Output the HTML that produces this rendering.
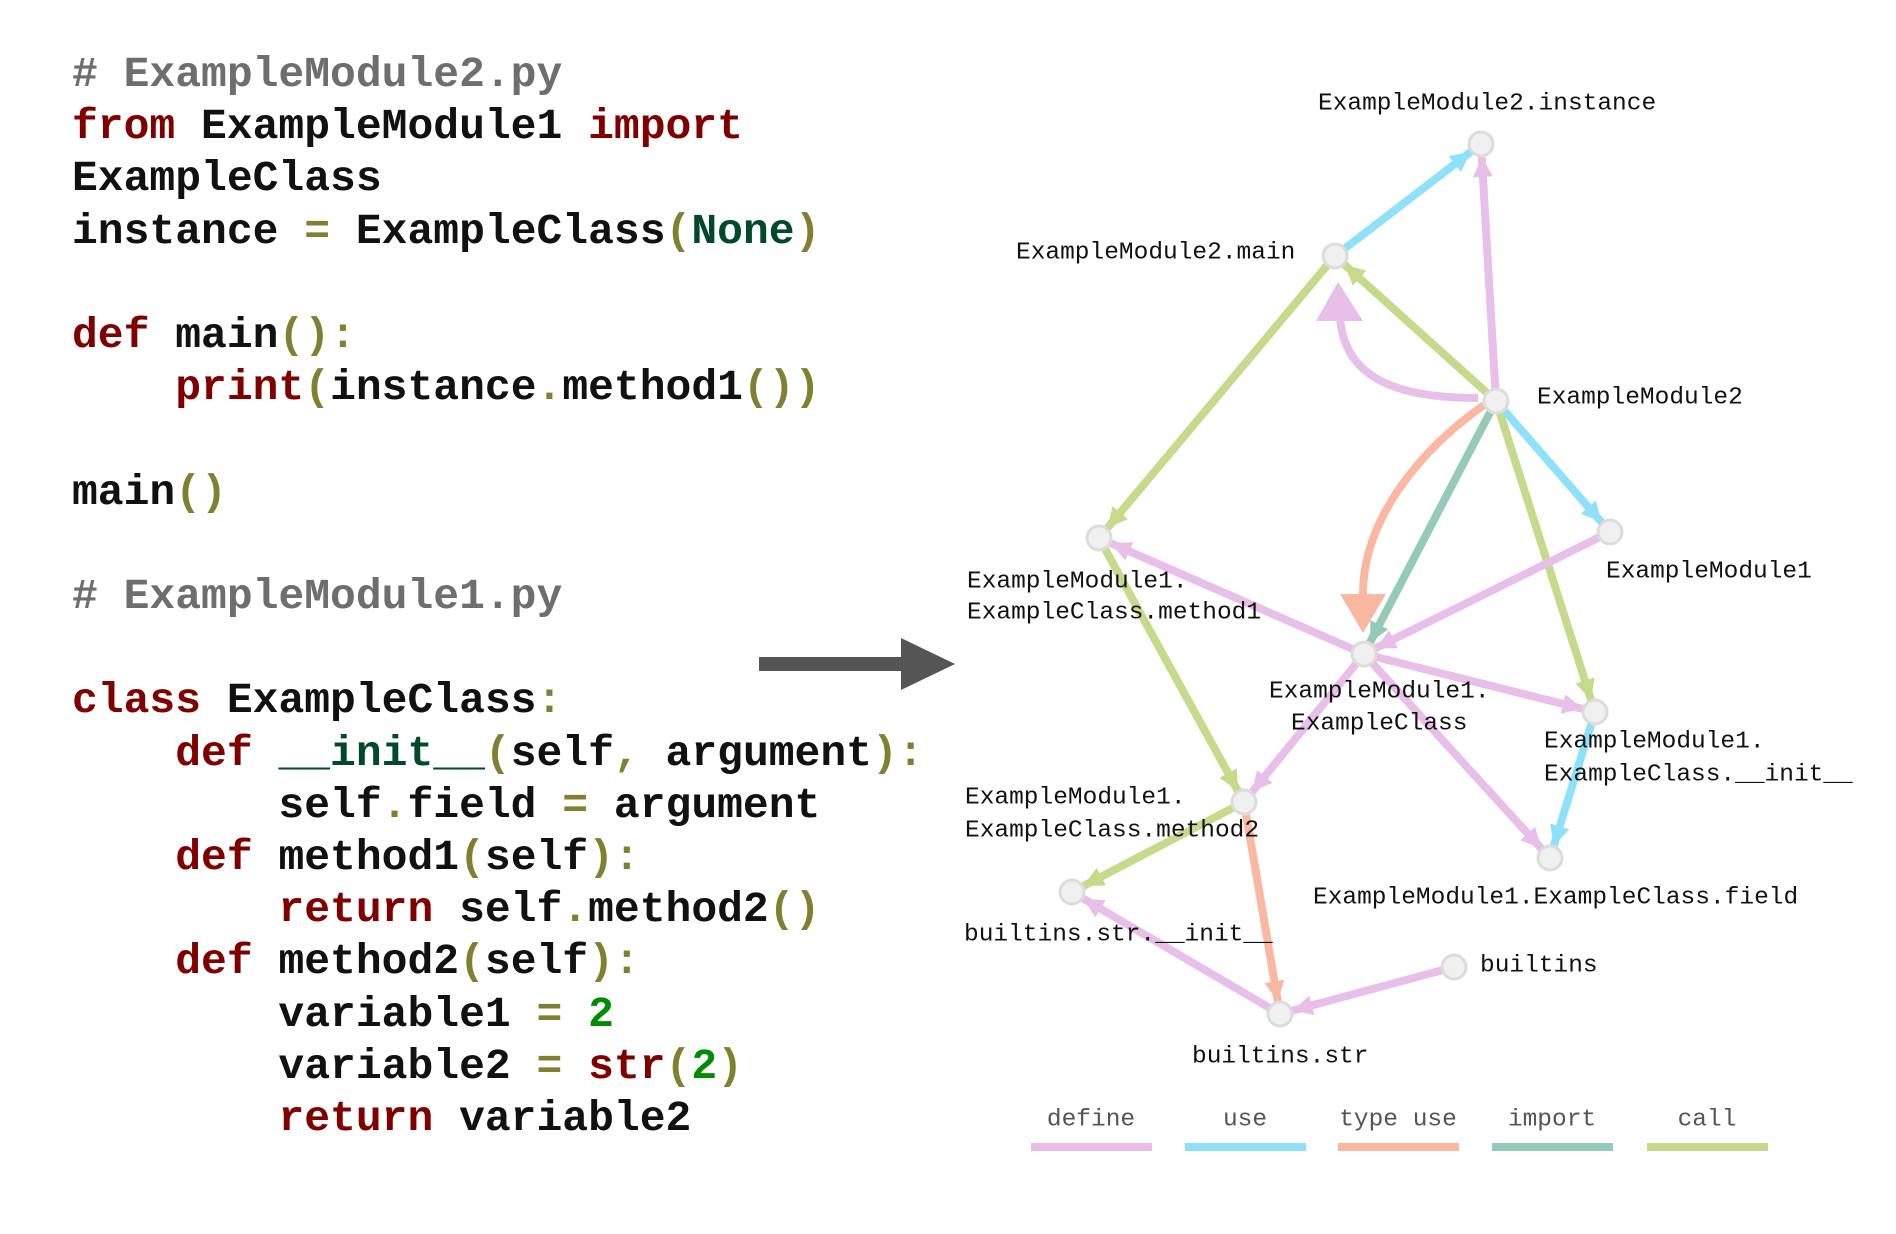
<!DOCTYPE html>
<html><head><meta charset="utf-8"><style>
html,body{margin:0;padding:0;background:#fff;}
body{width:1896px;height:1234px;position:relative;overflow:hidden;}
pre{position:absolute;left:72px;top:49px;margin:0;font-family:"Liberation Mono",monospace;font-weight:bold;font-size:43px;line-height:52.2px;color:#111;}
.c{color:#6e6e6e}.k{color:#800000}.p{color:#808030}.n{color:#004a2b}.d{color:#008c00}
svg{position:absolute;left:0;top:0;}
svg text{font-family:"Liberation Mono",monospace;font-size:24.5px;fill:#111;}
</style></head><body>
<pre><span class="c"># ExampleModule2.py</span>
<span class="k">from</span> ExampleModule1 <span class="k">import</span>
ExampleClass
instance <span class="p">=</span> ExampleClass<span class="p">(</span><span class="n">None</span><span class="p">)</span>

<span class="k">def</span> main<span class="p">():</span>
    <span class="k">print</span><span class="p">(</span>instance<span class="p">.</span>method1<span class="p">())</span>

main<span class="p">()</span>

<span class="c"># ExampleModule1.py</span>

<span class="k">class</span> ExampleClass<span class="p">:</span>
    <span class="k">def</span> <span class="n">__init__</span><span class="p">(</span>self<span class="p">,</span> argument<span class="p">):</span>
        self<span class="p">.</span>field <span class="p">=</span> argument
    <span class="k">def</span> method1<span class="p">(</span>self<span class="p">):</span>
        <span class="k">return</span> self<span class="p">.</span>method2<span class="p">()</span>
    <span class="k">def</span> method2<span class="p">(</span>self<span class="p">):</span>
        variable1 <span class="p">=</span> <span class="d">2</span>
        variable2 <span class="p">=</span> <span class="k">str</span><span class="p">(</span><span class="d">2</span><span class="p">)</span>
        <span class="k">return</span> variable2</pre>
<svg width="1896" height="1234" viewBox="0 0 1896 1234">
<defs>
<marker id="mD" markerUnits="userSpaceOnUse" markerWidth="60" markerHeight="30" refX="33" refY="10" orient="auto" overflow="visible"><path d="M0,0 L20,10 L0,20 z" fill="#e8bfe9"/></marker>
<marker id="mU" markerUnits="userSpaceOnUse" markerWidth="60" markerHeight="30" refX="33" refY="10" orient="auto" overflow="visible"><path d="M0,0 L20,10 L0,20 z" fill="#8fe1f9"/></marker>
<marker id="mT" markerUnits="userSpaceOnUse" markerWidth="60" markerHeight="30" refX="33" refY="10" orient="auto" overflow="visible"><path d="M0,0 L20,10 L0,20 z" fill="#fab8a2"/></marker>
<marker id="mI" markerUnits="userSpaceOnUse" markerWidth="60" markerHeight="30" refX="33" refY="10" orient="auto" overflow="visible"><path d="M0,0 L20,10 L0,20 z" fill="#95cab6"/></marker>
<marker id="mC" markerUnits="userSpaceOnUse" markerWidth="60" markerHeight="30" refX="33" refY="10" orient="auto" overflow="visible"><path d="M0,0 L20,10 L0,20 z" fill="#c6da8b"/></marker>
</defs>
<!-- big arrow -->
<rect x="759" y="657" width="144" height="14" fill="#555"/>
<polygon points="901,638 955,664 901,690" fill="#555"/>
<g stroke-width="8" fill="none">
<line x1="1335" y1="256" x2="1481" y2="144" stroke="#8fe1f9" marker-end="url(#mU)"/>
<line x1="1496" y1="401" x2="1481" y2="144" stroke="#e8bfe9" marker-end="url(#mD)"/>
<line x1="1496" y1="401" x2="1335" y2="256" stroke="#c6da8b" marker-end="url(#mC)"/>
<line x1="1496" y1="401" x2="1364" y2="654" stroke="#95cab6" marker-end="url(#mI)"/>
<line x1="1496" y1="401" x2="1610" y2="532" stroke="#8fe1f9" marker-end="url(#mU)"/>
<line x1="1496" y1="401" x2="1595" y2="712" stroke="#c6da8b" marker-end="url(#mC)"/>
<line x1="1335" y1="256" x2="1099" y2="538" stroke="#c6da8b" marker-end="url(#mC)"/>
<line x1="1610" y1="532" x2="1364" y2="654" stroke="#e8bfe9" marker-end="url(#mD)"/>
<line x1="1364" y1="654" x2="1099" y2="538" stroke="#e8bfe9" marker-end="url(#mD)"/>
<line x1="1364" y1="654" x2="1595" y2="712" stroke="#e8bfe9" marker-end="url(#mD)"/>
<line x1="1364" y1="654" x2="1244" y2="802" stroke="#e8bfe9" marker-end="url(#mD)"/>
<line x1="1364" y1="654" x2="1550" y2="858" stroke="#e8bfe9" marker-end="url(#mD)"/>
<line x1="1099" y1="538" x2="1244" y2="802" stroke="#c6da8b" marker-end="url(#mC)"/>
<line x1="1595" y1="712" x2="1550" y2="858" stroke="#8fe1f9" marker-end="url(#mU)"/>
<line x1="1244" y1="802" x2="1072" y2="892" stroke="#c6da8b" marker-end="url(#mC)"/>
<line x1="1244" y1="802" x2="1280" y2="1014" stroke="#fab8a2" marker-end="url(#mT)"/>
<line x1="1280" y1="1014" x2="1072" y2="892" stroke="#e8bfe9" marker-end="url(#mD)"/>
<line x1="1454" y1="967" x2="1280" y2="1014" stroke="#e8bfe9" marker-end="url(#mD)"/>
<path d="M1478,398 C1410,398 1345,385 1340,318" stroke="#e8bfe9"/>
<path d="M1484,405 C1420,450 1362,520 1363,596" stroke="#fab8a2"/>
</g>
<polygon points="1338,282 1316,321 1363,321" fill="#e8bfe9"/>
<polygon points="1363,633 1340,594 1386,594" fill="#fab8a2"/>
<g fill="#f0f0f0" stroke="#dcdcdc" stroke-width="3">
<circle cx="1481" cy="144" r="12"/>
<circle cx="1335" cy="256" r="12"/>
<circle cx="1496" cy="401" r="12"/>
<circle cx="1099" cy="538" r="12"/>
<circle cx="1610" cy="532" r="12"/>
<circle cx="1364" cy="654" r="12"/>
<circle cx="1595" cy="712" r="12"/>
<circle cx="1244" cy="802" r="12"/>
<circle cx="1550" cy="858" r="12"/>
<circle cx="1072" cy="892" r="12"/>
<circle cx="1454" cy="967" r="12"/>
<circle cx="1280" cy="1014" r="12"/>
</g>
<g dominant-baseline="central">
<text x="1318" y="104">ExampleModule2.instance</text>
<text x="1016" y="253">ExampleModule2.main</text>
<text x="1537" y="398">ExampleModule2</text>
<text x="967" y="582">ExampleModule1.</text>
<text x="967" y="613">ExampleClass.method1</text>
<text x="1606" y="572">ExampleModule1</text>
<text x="1269" y="692">ExampleModule1.</text>
<text x="1291" y="724">ExampleClass</text>
<text x="1544" y="742">ExampleModule1.</text>
<text x="1544" y="775">ExampleClass.__init__</text>
<text x="965" y="798">ExampleModule1.</text>
<text x="965" y="831">ExampleClass.method2</text>
<text x="1313" y="898">ExampleModule1.ExampleClass.field</text>
<text x="964" y="935">builtins.str.__init__</text>
<text x="1480" y="966">builtins</text>
<text x="1192" y="1057">builtins.str</text>
</g>
<g dominant-baseline="central" text-anchor="middle">
<text x="1091" y="1120" style="fill:#555">define</text>
<text x="1245" y="1120" style="fill:#555">use</text>
<text x="1398" y="1120" style="fill:#555">type use</text>
<text x="1552" y="1120" style="fill:#555">import</text>
<text x="1707" y="1120" style="fill:#555">call</text>
</g>
<rect x="1031" y="1143" width="121" height="8" fill="#e8bfe9"/>
<rect x="1185" y="1143" width="121" height="8" fill="#8fe1f9"/>
<rect x="1338" y="1143" width="121" height="8" fill="#fab8a2"/>
<rect x="1492" y="1143" width="121" height="8" fill="#95cab6"/>
<rect x="1647" y="1143" width="121" height="8" fill="#c6da8b"/>
</svg>
</body></html>
